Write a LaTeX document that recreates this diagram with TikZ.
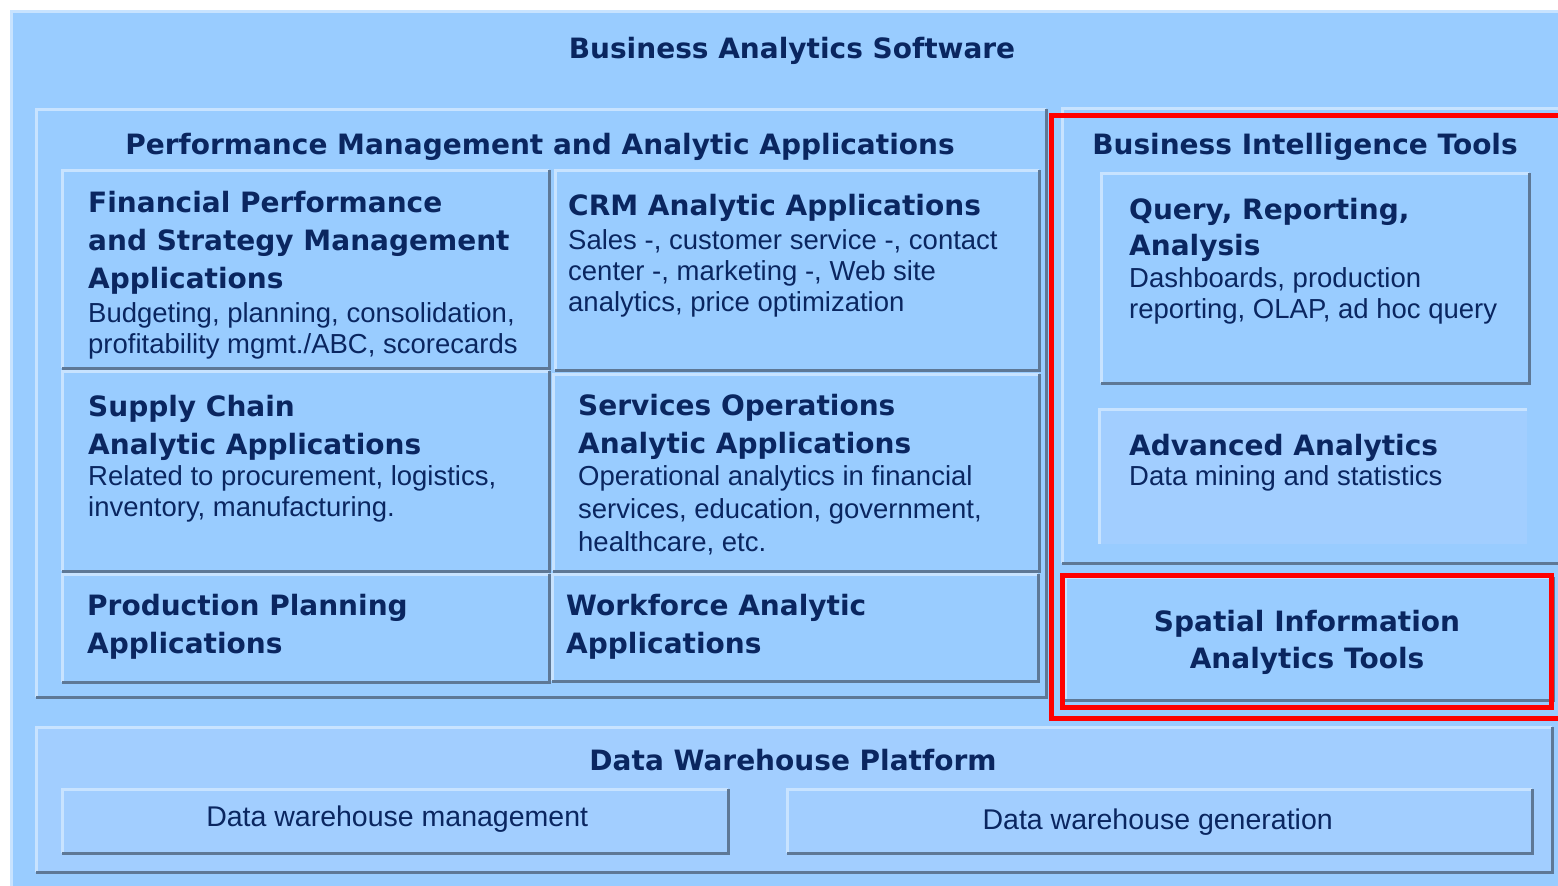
\documentclass[tikz,border=0pt]{standalone}
\usepackage{fontspec}
\setmainfont{Liberation Sans}
\newfontfamily\headfont{DejaVu Sans}
\usetikzlibrary{positioning}

\definecolor{skyfill}{HTML}{99CCFF}
\definecolor{palefill}{HTML}{A2CEFF}
\definecolor{liteedge}{HTML}{C8E3FF}
\definecolor{shadeedge}{HTML}{5E7896}
\definecolor{ink}{HTML}{0A2660}

\tikzset{
  panel/.style={rectangle, inner sep=0pt, anchor=north west, fill=skyfill},
  palepanel/.style={panel, fill=palefill},
  liteline/.style={draw=liteedge, line width=3pt},
  darkline/.style={draw=shadeedge, line width=3pt},
  redframe/.style={draw=red, line width=4.5pt, inner sep=0pt, anchor=north west},
  heading/.style={inner sep=0pt, text=ink, align=left, anchor=north west,
    font=\headfont\bfseries\fontsize{28}{38}\selectfont},
  title/.style={heading, anchor=north, align=center},
  body/.style={inner sep=0pt, text=ink, align=left,
    font=\fontsize{27.5}{31}\selectfont},
}

% raised look: light top/left, dark bottom/right
\newcommand{\bevel}[1]{%
  \draw[liteline] (#1.south west) |- (#1.north east);
  \draw[darkline] (#1.south west) -| (#1.north east);}
\newcommand{\litebevel}[1]{%
  \draw[liteline] (#1.south west) |- (#1.north east);}

\begin{document}
\begin{tikzpicture}[x=1pt,y=-1pt]
\useasboundingbox (0,0) rectangle (1558,886);
\fill[white] (0,0) rectangle (1558,886);

% outer frame
\node[panel, minimum width=1560pt, minimum height=890pt] (frame) at (11,11) {};
\litebevel{frame}
\node[title] (bas) at (792,37) {Business Analytics Software};

% performance management block
\node[panel, minimum width=1010pt, minimum height=588pt] (pm) at (36,109) {};
\bevel{pm}
\node[title] (pmt) at (540,133) {Performance Management and Analytic Applications};

\node[panel, minimum width=487pt, minimum height=198pt] (fin) at (62,170) {};
\node[panel, minimum width=484pt, minimum height=200pt] (crm) at (555,170) {};
\node[panel, minimum width=487pt, minimum height=200pt] (sup) at (62,371) {};
\node[panel, minimum width=486pt, minimum height=197pt] (svc) at (553,374) {};
\node[panel, minimum width=487pt, minimum height=108pt] (prod) at (62,574) {};
\node[panel, minimum width=486pt, minimum height=107pt] (wf) at (552,574) {};
\bevel{fin} \bevel{crm} \bevel{sup} \bevel{svc} \bevel{prod} \bevel{wf}

\node[heading] (finh) at (88,191) {Financial Performance\\and Strategy Management\\Applications};
\node[body, below right=8pt and 0pt of finh.south west] (finb) {Budgeting, planning, consolidation,\\profitability mgmt./ABC, scorecards};

\node[heading] (crmh) at (568,194) {CRM Analytic Applications};
\node[body, below right=8pt and 0pt of crmh.south west] (crmb) {Sales -, customer service -, contact\\center -, marketing -, Web site\\analytics, price optimization};

\node[heading] (suph) at (88,395) {Supply Chain\\Analytic Applications};
\node[body, below right=5pt and 0pt of suph.south west] (supb) {Related to procurement, logistics,\\inventory, manufacturing.};

\node[heading] (svch) at (578,394) {Services Operations\\Analytic Applications};
\node[body, below right=6pt and 0pt of svch.south west, font=\fontsize{27.5}{33}\selectfont] (svcb) {Operational analytics in financial\\services, education, government,\\healthcare, etc.};

\node[heading] (prodh) at (87,594) {Production Planning\\Applications};
\node[heading] (wfh) at (566,594) {Workforce Analytic\\Applications};

% business intelligence tools
\node[panel, minimum width=505pt, minimum height=455pt] (bi) at (1062,108) {};
\bevel{bi}
\node[title] (bit) at (1305,133) {Business Intelligence Tools};

\node[panel, minimum width=428pt, minimum height=210pt] (qry) at (1101,173) {};
\bevel{qry}
\node[heading, font=\headfont\bfseries\fontsize{28}{36}\selectfont] (qryh) at (1129,198) {Query, Reporting,\\Analysis};
\node[body, below right=6pt and 0pt of qryh.south west] (qryb) {Dashboards, production\\reporting, OLAP, ad hoc query};

\node[palepanel, minimum width=428pt, minimum height=135pt] (adv) at (1099,409) {};
\litebevel{adv}
\node[heading] (advh) at (1129,434) {Advanced Analytics};
\node[body, below right=4pt and 0pt of advh.south west] (advb) {Data mining and statistics};

\node[panel, minimum width=488pt, minimum height=123pt] (spat) at (1065,577) {};
\bevel{spat}
\node[title, font=\headfont\bfseries\fontsize{28}{37}\selectfont] (spatt) at (1307,610) {Spatial Information\\Analytics Tools};

% data warehouse platform
\node[palepanel, minimum width=1516pt, minimum height=145pt] (dw) at (36,727) {};
\bevel{dw}
\node[title] (dwt) at (793,749) {Data Warehouse Platform};
\node[palepanel, minimum width=666pt, minimum height=64pt] (dwm) at (62,789) {};
\node[palepanel, minimum width=745pt, minimum height=64pt] (dwg) at (787,789) {};
\bevel{dwm} \bevel{dwg}
\node[body, font=\fontsize{28.5}{31}\selectfont] (dwml) at ([shift={(2,-2)}]dwm.center) {Data warehouse management};
\node[body, font=\fontsize{28.5}{31}\selectfont] (dwgl) at ([shift={(-2,1)}]dwg.center) {Data warehouse generation};

% highlight frames
\node[redframe, minimum width=525pt, minimum height=603pt] (bisel) at (1049,113) {};
\node[redframe, minimum width=489pt, minimum height=132pt] (spatsel) at (1060,573) {};
\end{tikzpicture}
\end{document}
